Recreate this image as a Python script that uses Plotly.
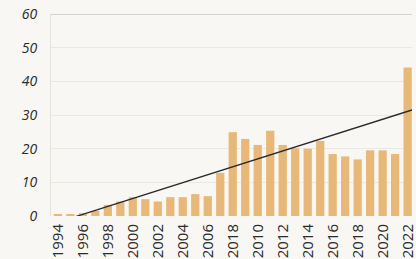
import plotly.graph_objects as go

years = list(range(1994, 2023))
values = [0.3, 0.5, 0.8, 1.5, 3.3, 4.3, 5.6, 5.0, 4.3, 5.6, 5.6, 6.5, 5.9, 12.8,
          24.9, 22.9, 21.1, 25.3, 21.1, 20.1, 20.0, 22.3, 18.4, 17.7, 16.8,
          19.5, 19.5, 18.4, 44.1]
tick_years = list(range(1994, 2023, 2))
tick_labels = ["1994", "1996", "1998", "2000", "2002", "2004", "2006", "2018",
               "2010", "2012", "2014", "2016", "2018", "2020", "2022"]
y_ticks = [0, 10, 20, 30, 40, 50, 60]
trend_x = [1993.45, 2022.35]
trend_y = [-2.5, 31.5]

BG = "#f8f7f3"
BAR = "#e8b878"
FONT = "Open Sans"

fig = go.Figure()
fig.add_trace(go.Bar(x=years, y=values, marker=dict(color=BAR, line=dict(width=0)),
                     hoverinfo="skip"))
fig.add_trace(go.Scatter(x=trend_x, y=trend_y, mode="lines",
                         line=dict(color="#2a2a2a", width=1.3), hoverinfo="skip"))

fig.update_layout(
    width=416, height=259,
    margin=dict(l=51, r=0, t=14, b=43),
    paper_bgcolor=BG, plot_bgcolor=BG,
    showlegend=False, bargap=0.34,
    font=dict(family=FONT, color="#2b2b2b", size=14),
    xaxis=dict(range=[1993.45, 2022.35], tickmode="array", tickvals=tick_years,
               ticktext=tick_labels, tickangle=-90, showgrid=False, zeroline=False,
               showline=False, ticks="", tickfont=dict(family=FONT, size=15),
               ticklabelstandoff=4, ticklabeloverflow="allow",
               fixedrange=True),
    yaxis=dict(range=[0, 60], tickmode="array", tickvals=y_ticks,
               gridcolor="#e9e8e3", gridwidth=1, zeroline=False,
               showline=True, linecolor="#e2e1dc", linewidth=1, ticks="",
               ticklabelstandoff=10,
               tickfont=dict(family=FONT, size=14, style="italic"),
               fixedrange=True),
    shapes=[dict(type="line", xref="paper", yref="y", x0=0, x1=1, y0=60, y1=60,
                 line=dict(color="#c8c7c3", width=1.5), layer="below")],
)

post = """
document.body.style.margin = '0';
document.body.style.background = '%s';
document.body.style.overflow = 'hidden';
""" % BG
fig.write_html("out.html", post_script=post, config={"displayModeBar": False})
